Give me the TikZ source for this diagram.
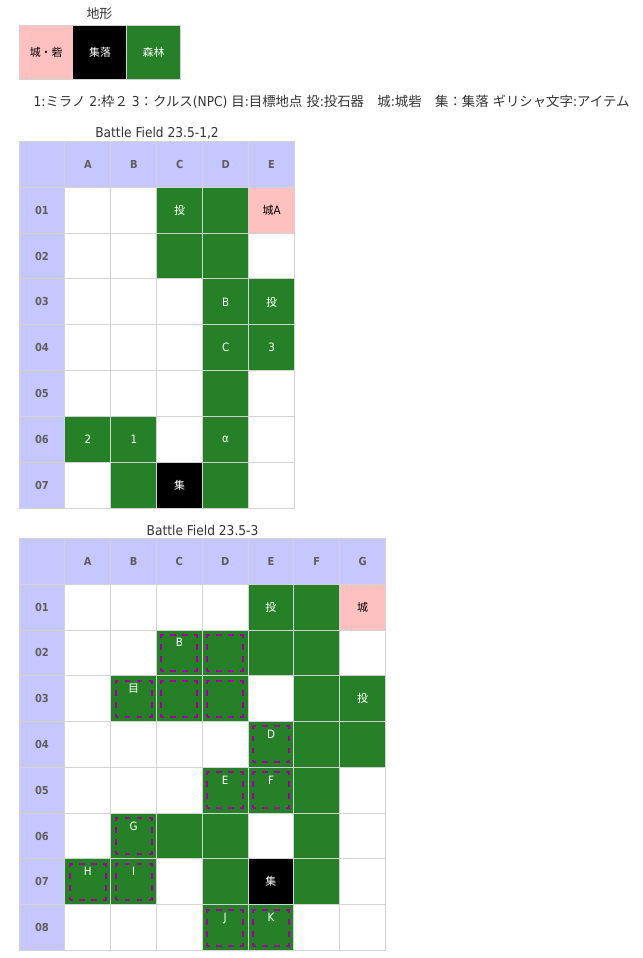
\documentclass[tikz,border=0pt]{standalone}
\usepackage{fontspec}
\setmainfont{DejaVu Sans Condensed}
\newfontfamily\cjk[Scale=0.955]{Noto Sans CJK JP}
\newfontfamily\cjknote[Scale=0.985]{Noto Sans CJK JP}
\definecolor{hdrblue}{HTML}{C7C7FF}
\definecolor{wood}{HTML}{258028}
\definecolor{fort}{HTML}{FFC0C0}
\definecolor{gridgray}{HTML}{D3D3D3}
\definecolor{route}{HTML}{A0009A}
\definecolor{hdrtext}{HTML}{5E5E5E}
\tikzset{
    caption/.style={inner sep=0pt, font=\fontsize{10.2}{12}\selectfont, text=black!80},
    cell/.style={inner sep=0pt, minimum width=34.4pt, minimum height=34.4pt, font=\fontsize{8.6}{10}\selectfont},
    hdr/.style={cell, fill=hdrblue, text=hdrtext, font=\fontsize{8.25}{10}\selectfont\bfseries},
    forest/.style={cell, fill=wood, text=white},
    town/.style={cell, fill=black, text=white},
    castle/.style={cell, fill=fort, text=black},
    target/.style={inner sep=0pt, text=white, font=\fontsize{8.6}{10}\selectfont, draw=route, line width=1.5pt,
        dash pattern=on 4.4pt off 4.6pt, dash phase=2.2pt,
        minimum width=27pt, minimum height=27pt, text height=9pt, text depth=18pt},
    gridline/.style={draw=gridgray, line width=0.75pt}
}
\begin{document}
\begin{tikzpicture}[x=0.75pt, y=0.75pt]
    \useasboundingbox (0,0) rectangle (643,-958);

    % Legend
    \node[caption] (legendtitle) at (99.5,-14) {\cjk 地形};
    \node[castle, minimum width=40.9pt, minimum height=40pt] (lcastle) at (46.2,-52.2) {\cjk 城・砦};
    \node[town, minimum width=39.8pt, minimum height=40pt] (ltown) at (100,-52.2) {\cjk 集落};
    \node[forest, minimum width=40.5pt, minimum height=40pt] (lforest) at (153.5,-52.2) {\cjk 森林};
    \draw[gridline] (19,-25.5) rectangle (180.5,-79);
    \draw[gridline] (126.5,-25.5) -- (126.5,-79);

    \node[caption] (notes) at (331.5,-102) {1:{\cjknote ミラノ} 2:{\cjknote 枠２} 3{\cjknote ：クルス}(NPC) {\cjknote 目}:{\cjknote 目標地点} {\cjknote 投}:{\cjknote 投石器　城}:{\cjknote 城砦　集：集落} {\cjknote ギリシャ文字}:{\cjknote アイテム}};

    % Battle Field 1
    \node[caption] (titleone) at (157,-133.5) {Battle Field 23.5-1,2};
    \begin{scope}[shift={(19,-141.5)}, x=34.44pt, y=34.36pt]
        \node[hdr] (ahead) at (0.5,-0.5) {}; \node[hdr] (aA) at (1.5,-0.5) {A}; \node[hdr] (aB) at (2.5,-0.5) {B}; \node[hdr] (aC) at (3.5,-0.5) {C}; \node[hdr] (aD) at (4.5,-0.5) {D}; \node[hdr] (aE) at (5.5,-0.5) {E};
        \node[hdr] (a01) at (0.5,-1.5) {01}; \node[forest] (aC01) at (3.5,-1.5) {\cjk 投}; \node[forest] (aD01) at (4.5,-1.5) {}; \node[castle] (aE01) at (5.5,-1.5) {{\cjk 城}A};
        \node[hdr] (a02) at (0.5,-2.5) {02}; \node[forest] (aC02) at (3.5,-2.5) {}; \node[forest] (aD02) at (4.5,-2.5) {};
        \node[hdr] (a03) at (0.5,-3.5) {03}; \node[forest] (aD03) at (4.5,-3.5) {B}; \node[forest] (aE03) at (5.5,-3.5) {\cjk 投};
        \node[hdr] (a04) at (0.5,-4.5) {04}; \node[forest] (aD04) at (4.5,-4.5) {C}; \node[forest] (aE04) at (5.5,-4.5) {3};
        \node[hdr] (a05) at (0.5,-5.5) {05}; \node[forest] (aD05) at (4.5,-5.5) {};
        \node[hdr] (a06) at (0.5,-6.5) {06}; \node[forest] (aA06) at (1.5,-6.5) {2}; \node[forest] (aB06) at (2.5,-6.5) {1}; \node[forest] (aD06) at (4.5,-6.5) {α};
        \node[hdr] (a07) at (0.5,-7.5) {07}; \node[forest] (aB07) at (2.5,-7.5) {}; \node[town] (aC07) at (3.5,-7.5) {\cjk 集}; \node[forest] (aD07) at (4.5,-7.5) {};
        \draw[gridline, step=1] (0,0) grid (6,-8);
    \end{scope}

    % Battle Field 2
    \node[caption] (titletwo) at (202.5,-530) {Battle Field 23.5-3};
    \begin{scope}[shift={(19,-538.5)}, x=34.36pt, y=34.33pt]
        \node[hdr] (bhead) at (0.5,-0.5) {}; \node[hdr] (bA) at (1.5,-0.5) {A}; \node[hdr] (bB) at (2.5,-0.5) {B}; \node[hdr] (bC) at (3.5,-0.5) {C}; \node[hdr] (bD) at (4.5,-0.5) {D}; \node[hdr] (bE) at (5.5,-0.5) {E}; \node[hdr] (bF) at (6.5,-0.5) {F}; \node[hdr] (bG) at (7.5,-0.5) {G};
        \node[hdr] (b01) at (0.5,-1.5) {01}; \node[forest] (bE01) at (5.5,-1.5) {\cjk 投}; \node[forest] (bF01) at (6.5,-1.5) {}; \node[castle] (bG01) at (7.5,-1.5) {\cjk 城};
        \node[hdr] (b02) at (0.5,-2.5) {02}; \node[forest] (bC02) at (3.5,-2.5) {}; \node[forest] (bD02) at (4.5,-2.5) {}; \node[forest] (bE02) at (5.5,-2.5) {}; \node[forest] (bF02) at (6.5,-2.5) {};
        \node[hdr] (b03) at (0.5,-3.5) {03}; \node[forest] (bB03) at (2.5,-3.5) {}; \node[forest] (bC03) at (3.5,-3.5) {}; \node[forest] (bD03) at (4.5,-3.5) {}; \node[forest] (bF03) at (6.5,-3.5) {}; \node[forest] (bG03) at (7.5,-3.5) {\cjk 投};
        \node[hdr] (b04) at (0.5,-4.5) {04}; \node[forest] (bE04) at (5.5,-4.5) {}; \node[forest] (bF04) at (6.5,-4.5) {}; \node[forest] (bG04) at (7.5,-4.5) {};
        \node[hdr] (b05) at (0.5,-5.5) {05}; \node[forest] (bD05) at (4.5,-5.5) {}; \node[forest] (bE05) at (5.5,-5.5) {}; \node[forest] (bF05) at (6.5,-5.5) {};
        \node[hdr] (b06) at (0.5,-6.5) {06}; \node[forest] (bB06) at (2.5,-6.5) {}; \node[forest] (bC06) at (3.5,-6.5) {}; \node[forest] (bD06) at (4.5,-6.5) {}; \node[forest] (bF06) at (6.5,-6.5) {};
        \node[hdr] (b07) at (0.5,-7.5) {07}; \node[forest] (bA07) at (1.5,-7.5) {}; \node[forest] (bB07) at (2.5,-7.5) {}; \node[forest] (bD07) at (4.5,-7.5) {}; \node[town] (bE07) at (5.5,-7.5) {\cjk 集}; \node[forest] (bF07) at (6.5,-7.5) {};
        \node[hdr] (b08) at (0.5,-8.5) {08}; \node[forest] (bD08) at (4.5,-8.5) {}; \node[forest] (bE08) at (5.5,-8.5) {};
        \draw[gridline, step=1] (0,0) grid (8,-9);
        % marked squares
        \node[target] (tB) at (bC02) {B}; \node[target] (tD02) at (bD02) {};
        \node[target] (tgoal) at (bB03) {\cjk 目}; \node[target] (tC03) at (bC03) {}; \node[target] (tD03) at (bD03) {};
        \node[target] (tD) at (bE04) {D};
        \node[target] (tE) at (bD05) {E}; \node[target] (tF) at (bE05) {F};
        \node[target] (tG) at (bB06) {G};
        \node[target] (tH) at (bA07) {H}; \node[target] (tI) at (bB07) {I};
        \node[target] (tJ) at (bD08) {J}; \node[target] (tK) at (bE08) {K};
    \end{scope}
\end{tikzpicture}
\end{document}
